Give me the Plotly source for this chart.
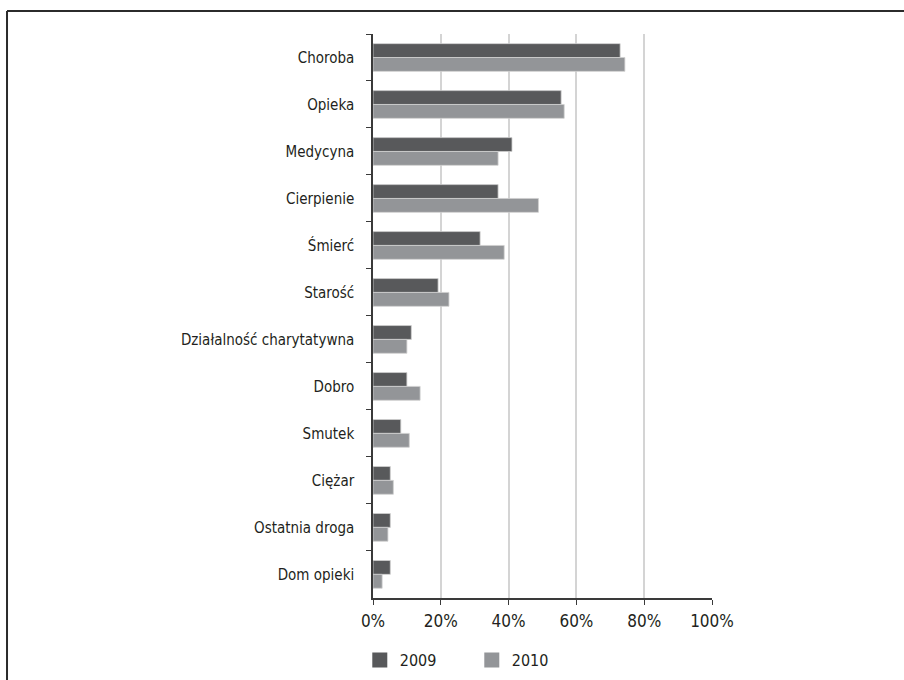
import plotly.graph_objects as go

categories = ["Choroba", "Opieka", "Medycyna", "Cierpienie", "Śmierć", "Starość",
              "Działalność charytatywna", "Dobro", "Smutek", "Ciężar",
              "Ostatnia droga", "Dom opieki"]
values_2009 = [72.9, 55.5, 41.0, 36.9, 31.6, 19.2, 11.3, 10.0, 8.2, 5.1, 5.1, 5.1]
values_2010 = [74.3, 56.4, 36.9, 48.8, 38.7, 22.4, 10.0, 13.9, 10.7, 6.0, 4.4, 2.7]
series_names = ["2009", "2010"]
series_colors = ["#58595b", "#939598"]
x_ticks = [0, 20, 40, 60, 80, 100]
x_tick_labels = ["0%", "20%", "40%", "60%", "80%", "100%"]

FONT = "DejaVu Sans Condensed, sans-serif"
TXT = "#231f20"

fig = go.Figure()
for vals, name, col in zip([values_2009, values_2010], series_names, series_colors):
    fig.add_trace(go.Bar(y=categories, x=vals, name=name, orientation="h", showlegend=False,
                         marker=dict(color=col, line=dict(color="#cfcfcf", width=0.8))))
# legend proxies (square swatches)
for name, col in zip(series_names, series_colors):
    fig.add_trace(go.Scatter(x=[None], y=[None], mode="markers", name=name,
                             marker=dict(symbol="square", size=15, color=col)))

fig.update_layout(
    width=904, height=680,
    margin=dict(l=373, r=192, t=34, b=79),
    paper_bgcolor="white", plot_bgcolor="white",
    barmode="group", bargap=0.41, bargroupgap=0,
    font=dict(family=FONT, size=15, color=TXT),
    showlegend=True,
    legend=dict(orientation="h", xref="container", yref="container",
                x=0.398, y=0.0294, xanchor="left", yanchor="middle",
                font=dict(size=16, color=TXT), entrywidth=67, traceorder="normal",
                itemsizing="trace"),
    xaxis=dict(range=[0, 100], tickvals=x_ticks, ticktext=x_tick_labels,
               showgrid=True, gridcolor="#d4d4d4", gridwidth=1.5,
               showline=True, linecolor="#3a3a3a", linewidth=1.5,
               ticks="outside", ticklen=5, tickcolor="#3a3a3a", ticklabelstandoff=2,
               tickfont=dict(size=17, color=TXT), zeroline=False, fixedrange=True),
    yaxis=dict(autorange="reversed", showline=True, linecolor="#3a3a3a", linewidth=1.5,
               ticks="outside", ticklen=5, tickcolor="#3a3a3a", tickson="boundaries",
               showgrid=False, tickfont=dict(size=15, color=TXT), ticklabelstandoff=14,
               fixedrange=True),
    shapes=[
        dict(type="line", xref="paper", yref="paper", x0=-1.0796, x1=1.6, y0=1.0406, y1=1.0406,
             line=dict(color="#2b2b2b", width=2)),
        dict(type="line", xref="paper", yref="paper", x0=-1.0796, x1=-1.0796, y0=1.0406, y1=-0.2,
             line=dict(color="#2b2b2b", width=2)),
    ],
)

fig.write_html("out.html")
